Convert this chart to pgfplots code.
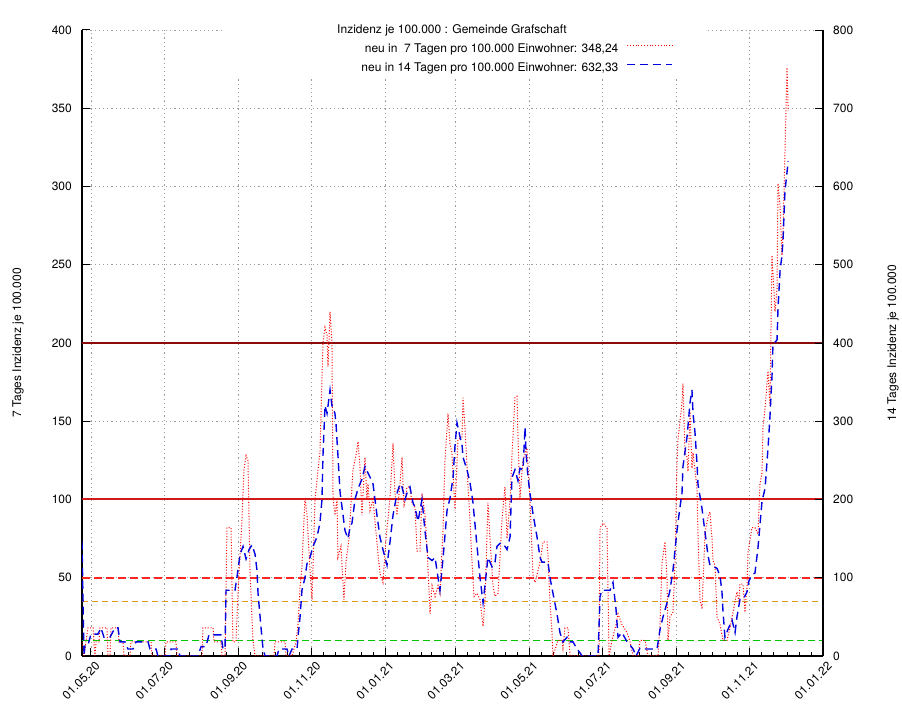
\documentclass[border=0pt]{standalone}
\usepackage{pgfplots}
\pgfplotsset{compat=1.18}
\usepackage{fontspec}
\setmainfont{TeX Gyre Heros}

\newcommand{\fs}{\fontsize{12}{14}\selectfont}

\definecolor{grenzdunkel}{RGB}{139,10,10}
\definecolor{grenzrot}{RGB}{210,25,25}
\definecolor{grenzgold}{RGB}{220,155,30}

\tikzset{
  sieben/.style={color=red, line width=1pt, dash pattern=on 1pt off 1.8pt},
  vierzehn/.style={color=blue!88!black, line width=1.4pt, dash pattern=on 8pt off 5pt},
}

\pgfplotsset{
  basis/.style={
    scale only axis, width=741pt, height=626pt,
    at={(0pt,0pt)}, anchor=south west,
    xmin=-7.5, xmax=610,
    axis line style={-, line width=1.1pt, black},
    tick align=inside,
    major tick length=8pt, minor tick length=4pt,
    tick style={line width=1pt, black},
    tick label style={font=\fs},
    /pgf/number format/assume math mode=true,
    label style={font=\fs},
  },
}

\begin{document}
\begin{tikzpicture}
% left axis: 7-day incidence, dates in days since 01.05.20
\begin{axis}[
  basis,
  clip mode=individual,
  ymin=0, ymax=400,
  axis x line*=bottom, axis y line*=left,
  xtick={0,61,123,184,245,304,365,426,488,549,610},
  xticklabels={01.05.20,01.07.20,01.09.20,01.11.20,01.01.21,01.03.21,01.05.21,01.07.21,01.09.21,01.11.21,01.01.22},
  minor xtick={10,20,31,41,51,71,82,92,102,113,133,143,154,164,174,194,204,215,225,235,255,265,275,284,294,314,324,335,345,355,375,385,396,406,416,436,447,457,467,478,498,508,518,529,539,559,569,580,590,600},
  ytick={0,50,...,400},
  xmajorgrids, ymajorgrids,
  major grid style={black!38, line width=0.8pt, dash pattern=on 1.2pt off 3pt},
  xticklabel style={rotate=45, anchor=east, inner sep=0pt, xshift=-1pt, yshift=-10.5pt},
  yticklabel style={anchor=east, inner sep=0pt, xshift=-10pt},
  ylabel={7 Tages Inzidenz je 100.000},
  ylabel style={at={(rel axis cs:0,0.5)}, anchor=center, yshift=64pt},
  legend cell align=right,
  legend plot pos=right,
  legend image code/.code={\draw[#1] (0pt,3.5pt) -- (45pt,3.5pt);},
  legend style={at={(rel axis cs:0.7976,0.9792)}, anchor=north east,
    draw=none, fill=none, font=\fs, inner sep=0pt, row sep=7pt, column sep=8pt,
    nodes={inner sep=0pt, text height=9pt, text depth=3pt}},
]
% key background
\fill[white] (rel axis cs:0.189,0.9265) rectangle (rel axis cs:0.842,1);

% thresholds
\addplot[forget plot, color=green!78!black, line width=1.4pt, dash pattern=on 7pt off 4pt] coordinates {(-7.5,10) (610,10)};
\addplot[forget plot, color=grenzgold, line width=1.4pt, dash pattern=on 6pt off 4pt] coordinates {(-7.5,35) (610,35)};
\addplot[forget plot, color=red!85, line width=1.6pt, dash pattern=on 8pt off 4pt] coordinates {(-7.5,50) (610,50)};
\addplot[forget plot, color=grenzrot, line width=2pt] coordinates {(-7.5,100) (610,100)};
\addplot[forget plot, color=grenzdunkel, line width=1.8pt] coordinates {(-7.5,200) (610,200)};

% 7-day incidence per 100,000
\addplot[sieben, forget plot] coordinates {
(-7.5,9) (-5.8,0) (-4.2,9) (-2.5,18) (1.7,18) (3.3,0) (4.2,9) (6.7,9) (7.5,18) (13.3,18) (14.2,0) (15.8,0) (16.7,18) (22.5,18) (23.3,9) (26.7,9) (27.5,0) (32.5,0) (33.3,9) (50.0,9) (50.8,0) (61.7,0) (62.5,9) (70.8,9) (71.7,0) (92.5,0) (93.3,18) (101.7,18) (102.5,9) (108.3,9) (109.2,0) (111.7,0) (113.3,82) (116.7,82) (118.3,9) (120.8,9) (122.5,40) (125.8,87) (127.5,119) (129.2,128) (130.8,125) (132.5,55) (134.2,23) (135.0,10) (136.7,0) (152.5,0) (153.3,9) (161.7,9) (162.5,0) (167.5,0) (170.8,9) (172.5,20) (174.2,44) (175.8,57) (178.3,101) (180.0,90) (182.5,55) (184.2,36) (186.7,100) (189.2,119) (190.8,130) (193.3,200) (195.0,210) (196.7,205) (197.5,185) (199.2,220) (200.8,200) (201.7,101) (203.3,90) (205.0,100) (205.8,63) (208.3,70) (210.8,36) (212.5,60) (215.0,75) (218.3,119) (220.8,128) (222.5,137) (224.2,120) (225.8,90) (228.3,127) (230.0,100) (230.8,110) (232.5,93) (235.0,100) (238.3,72) (240.8,53) (243.3,47) (245.8,75) (249.2,101) (251.7,136) (253.3,105) (255.0,90) (257.5,110) (259.2,127) (260.8,95) (263.3,108) (265.8,108) (267.5,98) (270.0,95) (271.7,67) (274.2,67) (275.8,104) (278.3,91) (280.0,70) (282.5,27) (284.2,45) (286.7,38) (289.2,45) (290.8,40) (293.3,80) (295.0,125) (297.5,155) (299.2,135) (300.8,130) (303.3,93) (305.8,138) (309.2,140) (310.0,165) (311.7,145) (314.2,108) (315.8,87) (317.5,60) (319.2,38) (321.7,40) (324.2,36) (326.7,19) (328.3,35) (330.8,98) (332.5,75) (335.0,45) (336.7,38) (339.2,40) (342.5,87) (345.0,108) (346.7,75) (349.2,100) (350.8,128) (353.3,165) (355.0,166) (355.8,140) (357.5,101) (360.0,125) (363.3,133) (365.8,100) (368.3,52) (370.0,47) (371.7,52) (374.2,60) (376.7,73) (380.0,73) (380.8,65) (382.5,34) (384.2,15) (385.0,0) (389.2,10) (392.5,10) (393.3,5) (395.0,18) (397.5,18) (399.2,0) (423.3,0) (424.2,82) (426.7,85) (430.0,82) (431.7,0) (434.2,10) (437.5,20) (439.2,27) (442.5,20) (446.7,15) (449.2,9) (451.7,0) (455.8,0) (457.5,10) (461.7,10) (464.2,0) (472.5,0) (474.2,21) (475.8,59) (478.3,73) (480.0,50) (480.8,10) (482.5,25) (485.0,28) (486.7,60) (488.3,123) (489.2,138) (490.8,150) (492.5,162) (493.3,174) (495.0,130) (496.7,127) (497.5,118) (499.2,156) (500.8,120) (501.7,130) (505.0,107) (505.8,79) (507.5,36) (509.2,30) (511.7,79) (514.2,89) (515.8,92) (517.5,75) (518.3,61) (520.0,58) (521.7,25) (524.2,20) (526.7,10) (530.0,10) (532.5,18) (535.0,28) (538.3,41) (540.0,35) (540.8,46) (543.3,46) (545.0,28) (546.7,45) (547.5,66) (550.8,82) (553.3,82) (555.8,78) (557.5,110) (559.2,117) (560.0,146) (561.7,158) (563.3,174) (564.2,182) (565.8,160) (567.5,256) (568.3,245) (570.0,220) (571.7,235) (572.5,302) (574.2,287) (575.8,256) (576.7,271) (578.3,322) (580.0,376) (581.0,348.24)
};

\addlegendimage{sieben}
\addlegendentry{neu in\ \ 7 Tagen pro 100.000 Einwohner: 348,24}
\addlegendimage{vierzehn}
\addlegendentry{neu in 14 Tagen pro 100.000 Einwohner: 632,33}

\node[font=\fs, anchor=center] at (rel axis cs:0.4993,1) {Inzidenz je 100.000 : Gemeinde Grafschaft};
\end{axis}

% right axis: 14-day incidence
\begin{axis}[
  basis,
  ymin=0, ymax=800,
  axis x line=none, axis y line*=right,
  ytick={0,100,...,800},
  yticklabel style={anchor=west, inner sep=0pt, xshift=10pt},
  ylabel={14 Tages Inzidenz je 100.000},
  ylabel style={at={(rel axis cs:1,0.5)}, anchor=center, yshift=-70pt},
]
\addplot[vierzehn] coordinates {
(-7.5,146) (-5.8,0) (-5.0,14) (-2.5,14) (0,28) (5.8,28) (8.3,36) (10.8,24) (15.8,24) (20.0,36) (22.5,36) (24.2,18) (28.3,18) (30.8,9) (35.0,9) (37.5,18) (47.5,18) (49.2,9) (54.2,9) (55.8,0) (65.8,0) (66.7,9) (72.5,9) (74.2,0) (89.2,0) (91.7,12) (95.8,12) (98.3,27) (108.3,27) (110.0,9) (111.7,9) (112.5,84) (120.0,84) (122.5,110) (124.2,130) (126.7,140) (129.2,124) (131.7,136) (134.2,142) (136.7,130) (138.3,110) (139.2,80) (141.7,36) (143.3,10) (145.0,0) (155.0,0) (156.7,9) (163.3,9) (165.0,0) (167.5,9) (171.7,9) (172.5,24) (174.2,50) (175.8,84) (178.3,100) (180.0,118) (182.5,126) (185.0,140) (188.3,152) (190.8,170) (192.5,200) (193.3,256) (195.0,320) (196.7,310) (199.2,340) (200.8,320) (203.3,310) (204.2,296) (205.8,256) (207.5,210) (209.2,190) (211.7,160) (214.2,150) (215.8,164) (217.5,170) (220.0,200) (222.5,214) (225.8,226) (228.3,242) (230.8,234) (233.3,226) (235.0,220) (238.3,180) (240.8,152) (243.3,136) (246.7,116) (249.2,146) (251.7,180) (255.0,208) (257.5,220) (259.2,216) (261.7,200) (263.3,208) (265.8,216) (268.3,196) (270.0,190) (272.5,172) (275.8,200) (278.3,160) (280.8,126) (284.2,122) (286.7,126) (289.2,100) (290.8,84) (292.5,110) (294.2,140) (296.7,186) (299.2,202) (301.7,228) (303.3,268) (305.0,298) (307.5,280) (309.2,270) (310.0,254) (313.3,238) (315.8,222) (318.3,196) (321.7,140) (324.2,100) (326.7,68) (328.3,90) (330.8,126) (334.2,114) (336.7,120) (338.3,140) (340.8,144) (343.3,144) (346.7,136) (349.2,152) (350.8,228) (353.3,238) (355.8,224) (357.5,240) (360.0,238) (361.7,292) (362.5,260) (364.2,228) (365.8,208) (368.3,182) (371.7,152) (374.2,126) (375.8,120) (380.8,120) (382.5,100) (385.0,80) (388.3,54) (390.8,30) (393.3,18) (396.7,24) (399.2,18) (401.7,18) (405.0,9) (407.5,4) (409.2,0) (422.5,0) (424.2,76) (425.8,84) (432.5,84) (435.0,94) (437.5,60) (439.2,24) (442.5,30) (446.7,18) (449.2,14) (451.7,9) (454.2,0) (457.5,10) (460.0,9) (471.7,9) (474.2,34) (476.7,50) (480.0,68) (482.5,84) (485.0,110) (488.3,160) (490.8,190) (492.5,208) (493.3,242) (496.7,280) (499.2,324) (500.8,340) (501.7,310) (503.3,286) (505.0,246) (505.8,220) (509.2,188) (511.7,158) (514.2,128) (515.8,116) (521.7,112) (524.2,102) (525.8,82) (526.7,56) (528.3,24) (530.8,34) (534.2,46) (536.7,30) (538.3,50) (540.8,72) (543.3,72) (546.7,82) (548.3,96) (550.8,104) (553.3,106) (555.8,138) (559.2,198) (561.7,214) (564.2,266) (565.8,306) (567.5,358) (568.3,398) (571.7,404) (572.5,444) (574.2,492) (575.8,512) (576.7,532) (578.3,594) (581.0,632.33)
};
\end{axis}
\pgfresetboundingbox
\path (-82pt,-53pt) rectangle (820pt,656pt);
\end{tikzpicture}
\end{document}
